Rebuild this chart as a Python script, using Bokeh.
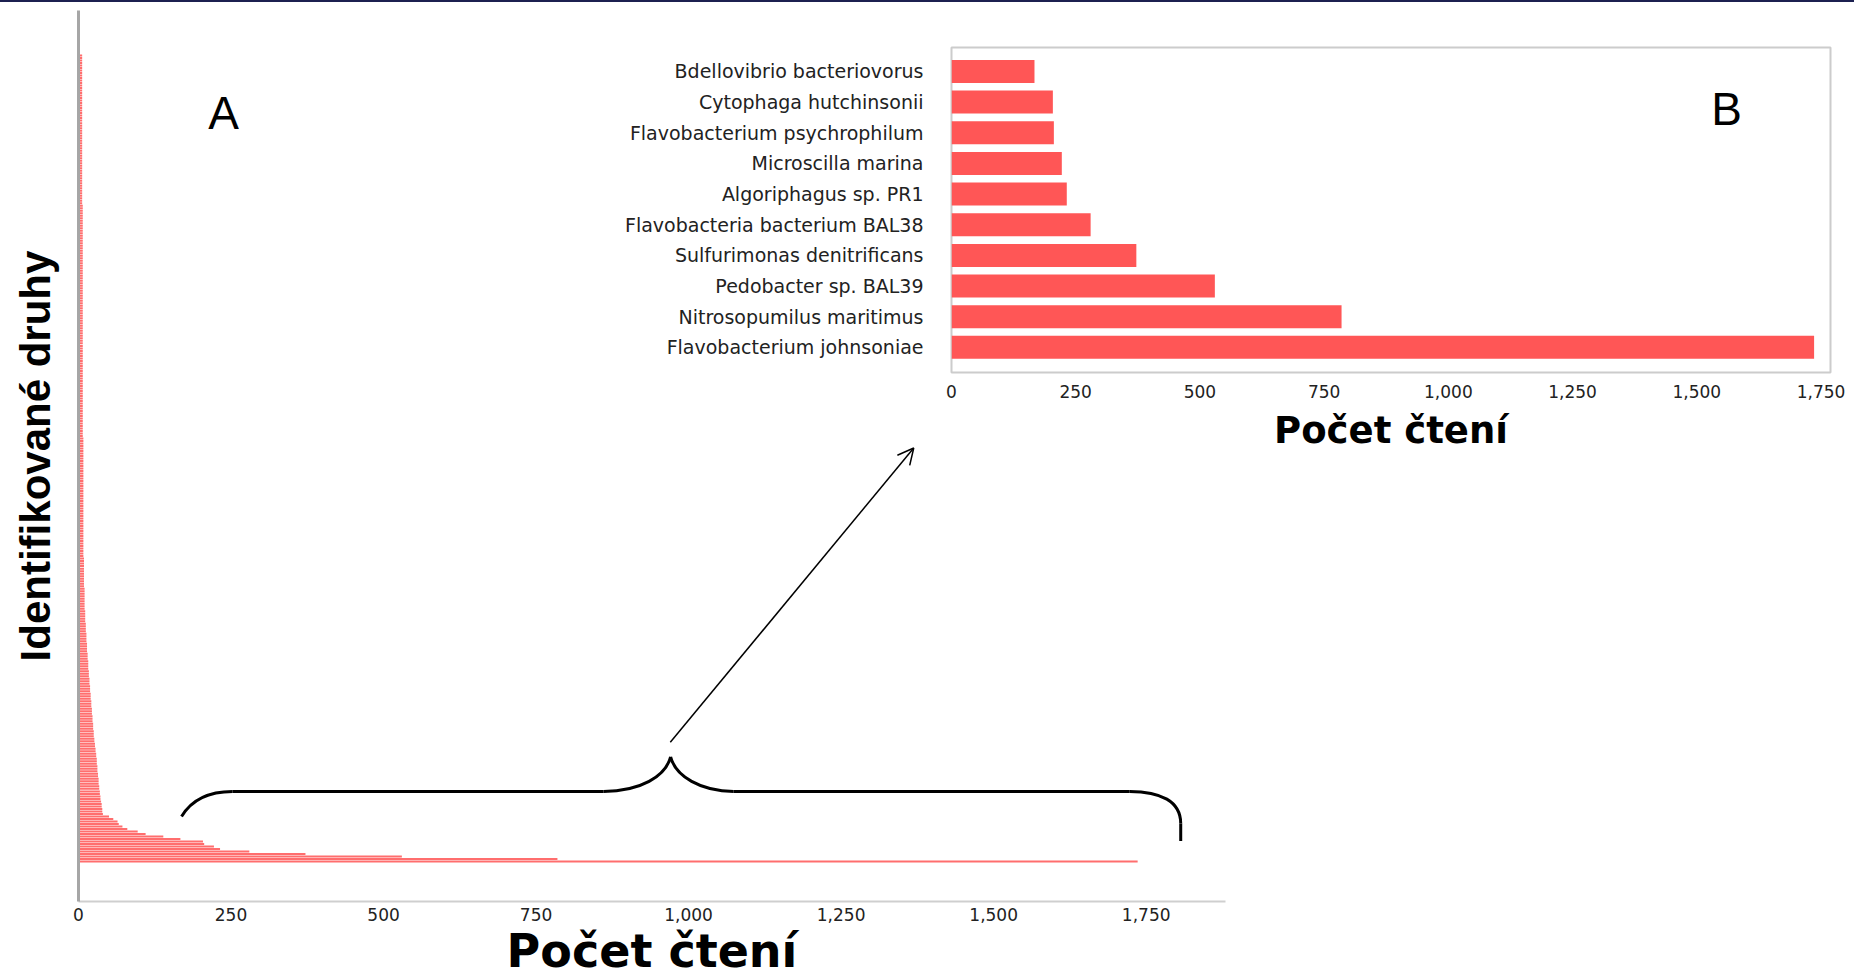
from bokeh.plotting import figure
from bokeh.layouts import column
from bokeh.models import (FixedTicker, Label, Arrow, OpenHead, Div,
                          NumeralTickFormatter, Range1d)
from bokeh.embed import file_html
from bokeh.resources import INLINE

# ---------------- data ----------------
species = ["Flavobacterium johnsoniae", "Nitrosopumilus maritimus",
           "Pedobacter sp. BAL39", "Sulfurimonas denitrificans",
           "Flavobacteria bacterium BAL38", "Algoriphagus sp. PR1",
           "Microscilla marina", "Flavobacterium psychrophilum",
           "Cytophaga hutchinsonii", "Bdellovibrio bacteriovorus"]
top_reads = [1736, 785, 530, 372, 280, 232, 222, 206, 204, 167]

# remaining identified species of panel A, largest to smallest
tail_reads = [
    139, 110, 97, 80, 72, 66, 64, 57, 50, 40,
    39, 39, 38, 38, 37, 36, 36, 35, 35, 34,
    34, 33, 33, 33, 32, 32, 31, 31, 31, 30, 30,
    30, 29, 29, 28, 28, 27, 27, 26, 26, 25, 25,
    25, 24, 24, 24, 23, 23, 23, 22, 22, 22, 21, 21, 21,
    20, 20, 20, 19, 19, 19, 18, 18, 18, 17, 17, 17, 16, 16,
    16, 16, 15, 15, 15, 14, 14, 14, 14, 13, 13, 13, 13, 12,
    12, 12, 12, 11, 11, 11, 11, 11, 10, 10, 10, 10, 10,
    10, 10, 10, 10, 9, 9, 9, 9, 9, 9, 9, 9, 9, 9, 9, 9,
    8, 8, 8, 8, 8, 8, 8, 8, 8, 8, 8, 8,
    8, 8, 8, 8, 8, 8, 8, 8, 8, 8, 8, 8,
    8, 8, 8, 8, 8, 8, 8, 8, 8, 8, 8, 8,
    8, 8, 8, 8, 8, 8, 8, 8, 8, 8, 8, 8,
    7, 7, 7, 7, 7, 7, 7, 7, 7, 7, 7, 7, 7, 7, 7, 7, 7, 7, 7, 7,
    7, 7, 7, 7, 7, 7, 7, 7, 7, 7, 7, 7, 7, 7, 7, 7, 7, 7, 7, 7,
    7, 7, 7, 7, 7, 7, 7, 7, 7, 7, 7, 7, 7, 7, 7, 7, 7, 7, 7, 7,
    7, 7, 7, 7, 7, 7, 7, 7, 7, 7, 7, 7, 7, 7, 7, 7, 7, 7, 7, 7,
    7, 7, 7, 7, 7, 7, 7, 7, 7, 7, 7, 7, 7,
    6, 6, 6, 6, 6, 6, 6, 6, 6, 6, 6, 6, 6, 6, 6, 6, 6, 6, 6, 6,
    6, 6, 6, 6, 6, 6, 6, 6, 6, 6, 6, 6, 6, 6, 6, 6, 6, 6, 6, 6,
    6, 6, 6, 6, 6, 6, 6, 6, 6, 6, 6, 6, 6, 6, 6, 6, 6, 6, 6, 6,
]
all_reads = top_reads + tail_reads
x_ticks = [0, 250, 500, 750, 1000, 1250, 1500, 1750]

# annotation geometry (panel A data units): curly brace + arrow
brace_curves = [
    # x0, y0, cx0, cy0, cx1, cy1, x1, y1
    (168.9, 18.0, 183.6, 24.0, 208.2, 28.0, 252.5, 28.0),
    (860.7, 28.0, 921.3, 28.0, 962.3, 34.0, 970.5, 41.8),
    (970.5, 41.8, 978.7, 34.0, 1019.7, 28.0, 1073.8, 28.0),
    (1723.0, 28.0, 1773.8, 28.0, 1806.6, 24.0, 1806.6, 15.2),
]
brace_lines = [([252.5, 860.7], [28.0, 28.0]),
               ([1073.8, 1723.0], [28.0, 28.0]),
               ([1806.6, 1806.6], [15.2, 8.2])]
arrow_start = (970, 47.6)
arrow_end = (1369, 165.2)

TICK_FONT = "DejaVu Sans"
RED_A = "#FF6E6E"
RED_B = "#FF5656"

# ---------------- panel B (inset) ----------------
pb = figure(width=1234, height=468, x_range=Range1d(0, 1769),
            y_range=Range1d(-0.82, 9.78), output_backend="svg",
            toolbar_location=None, min_border_left=331, min_border_right=24,
            min_border_top=45, min_border_bottom=98, margin=(0, 0, 0, 620))
b_pos = list(range(len(species)))
pb.hbar(y=b_pos, left=0, right=top_reads, height=0.75,
        fill_color=RED_B, line_color=None)
pb.grid.visible = False
pb.outline_line_color = "#CCCCCC"
pb.outline_line_width = 2
pb.background_fill_color = "white"
pb.border_fill_color = "white"

pb.yaxis.ticker = FixedTicker(ticks=b_pos)
pb.yaxis.major_label_overrides = {i: s for i, s in zip(b_pos, species)}
pb.yaxis.axis_line_color = None
pb.yaxis.major_tick_line_color = None
pb.yaxis.minor_tick_line_color = None
pb.yaxis.major_label_standoff = 22
pb.yaxis.major_label_text_font = TICK_FONT
pb.yaxis.major_label_text_font_size = "19px"
pb.yaxis.major_label_text_color = "#222222"

pb.xaxis.ticker = FixedTicker(ticks=x_ticks)
pb.xaxis.formatter = NumeralTickFormatter(format="0,0")
pb.xaxis.axis_line_color = None
pb.xaxis.major_tick_line_color = None
pb.xaxis.minor_tick_line_color = None
pb.xaxis.major_label_standoff = 6
pb.xaxis.major_label_text_font = TICK_FONT
pb.xaxis.major_label_text_font_size = "17px"
pb.xaxis.major_label_text_color = "#222222"
pb.xaxis.axis_label = "Počet čtení"
pb.xaxis.axis_label_text_font = "DejaVu Sans"
pb.xaxis.axis_label_text_font_style = "bold"
pb.xaxis.axis_label_text_font_size = "37px"
pb.xaxis.axis_label_text_color = "black"
pb.xaxis.axis_label_standoff = 8

pb.add_layout(Label(x=1560, y=7.76, text="B", text_align="center",
                    text_baseline="middle", text_font="Liberation Sans",
                    text_font_size="46px", text_color="black"))

# ---------------- panel A (main) ----------------
# The column layout aligns the left/right borders of its plots, so panel A
# gets the same borders as B and is shifted left with a negative margin.
n = len(all_reads)
pa = figure(width=1502, height=980, x_range=Range1d(0, 1880),
            y_range=Range1d(-16, 340), output_backend="svg",
            toolbar_location=None, min_border_left=331, min_border_top=10,
            min_border_right=24, min_border_bottom=74,
            margin=(-470, 0, 0, -253))
a_pos = list(range(n))
pa.hbar(y=a_pos, left=0, right=all_reads, height=0.8,
        fill_color=RED_A, line_color=None)
pa.grid.visible = False
pa.outline_line_color = None
pa.background_fill_color = None
pa.border_fill_color = None

pa.yaxis.ticker = FixedTicker(ticks=[])
pa.yaxis.axis_line_color = "#A6A6A6"
pa.yaxis.axis_line_width = 3
pa.yaxis.major_tick_line_color = None
pa.yaxis.minor_tick_line_color = None
pa.yaxis.axis_label = "Identifikované druhy"
pa.yaxis.axis_label_text_font = "Liberation Sans"
pa.yaxis.axis_label_text_font_style = "bold"
pa.yaxis.axis_label_text_font_size = "42px"
pa.yaxis.axis_label_text_color = "black"
pa.yaxis.axis_label_standoff = 20

pa.xaxis.ticker = FixedTicker(ticks=x_ticks)
pa.xaxis.formatter = NumeralTickFormatter(format="0,0")
pa.xaxis.axis_line_color = "#CFCFCF"
pa.xaxis.axis_line_width = 2
pa.xaxis.major_tick_line_color = None
pa.xaxis.minor_tick_line_color = None
pa.xaxis.major_tick_out = 0
pa.xaxis.major_label_standoff = 6
pa.xaxis.major_label_text_font = TICK_FONT
pa.xaxis.major_label_text_font_size = "17px"
pa.xaxis.major_label_text_color = "#222222"
pa.xaxis.axis_label = "Počet čtení"
pa.xaxis.axis_label_text_font = "DejaVu Sans"
pa.xaxis.axis_label_text_font_style = "bold"
pa.xaxis.axis_label_text_font_size = "46px"
pa.xaxis.axis_label_text_color = "black"
pa.xaxis.axis_label_standoff = 0

for (x0, y0, cx0, cy0, cx1, cy1, x1, y1) in brace_curves:
    pa.bezier(x0=[x0], y0=[y0], cx0=[cx0], cy0=[cy0], cx1=[cx1], cy1=[cy1],
              x1=[x1], y1=[y1], line_color="black", line_width=3)
for xs, ys in brace_lines:
    pa.line(xs, ys, line_color="black", line_width=3)

pa.add_layout(Arrow(end=OpenHead(size=16, line_width=1.5, line_color="black"),
                    x_start=arrow_start[0], y_start=arrow_start[1],
                    x_end=arrow_end[0], y_end=arrow_end[1],
                    line_width=1.5, line_color="black"))

pa.add_layout(Label(x=238, y=299.2, text="A", text_align="center",
                    text_baseline="middle", text_font="Liberation Sans",
                    text_font_size="46px", text_color="black"))

top_bar = Div(text="", width=1854, height=2, margin=0,
              styles={"background-color": "#1c2050"})

p = column(top_bar, pb, pa, spacing=0)
open("out.html", "w").write(file_html(p, INLINE))
